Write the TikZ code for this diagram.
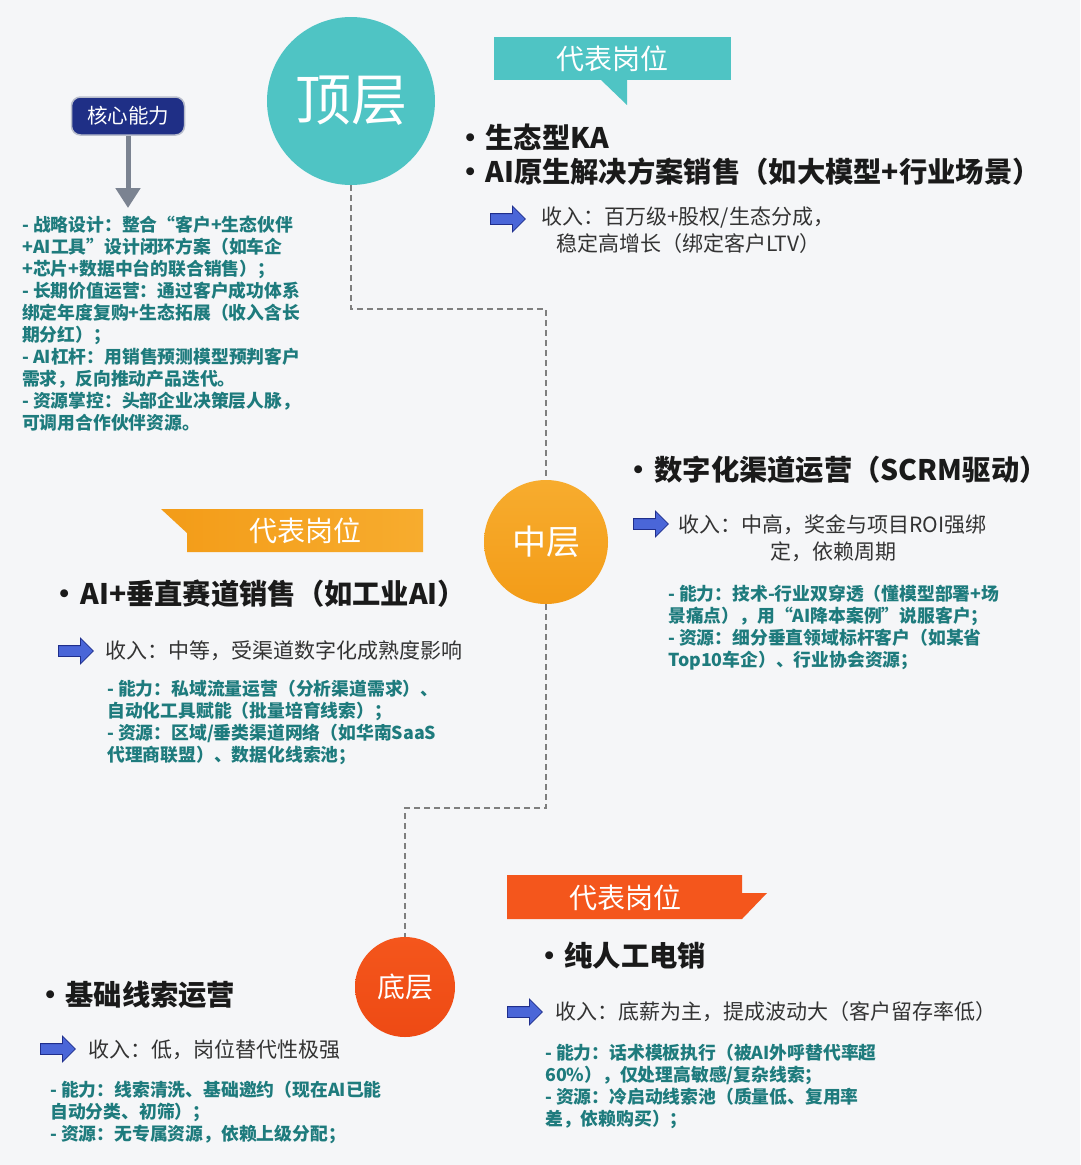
\documentclass[tikz,border=0pt]{standalone}
\usepackage{fontspec}
\setmainfont{Noto Sans CJK SC}
\usetikzlibrary{arrows.meta,shapes.arrows}
\definecolor{bgc}{HTML}{F5F6F8}
\definecolor{tealc}{HTML}{4FC4C4}
\definecolor{captext}{HTML}{1E7B7D}
\definecolor{headc}{HTML}{1A1A1A}
\definecolor{incc}{HTML}{333333}
\definecolor{navy}{HTML}{1F2F86}
\definecolor{navyedge}{HTML}{B8BDCC}
\definecolor{grayarrow}{HTML}{7B8391}
\definecolor{dashc}{HTML}{7F7F7F}
\definecolor{arrowfill}{HTML}{4A66D8}
\definecolor{arrowedge}{HTML}{1F2E8C}
\definecolor{orangeA}{HTML}{F39C18}
\definecolor{orangeB}{HTML}{F7AC2E}
\definecolor{redA}{HTML}{F4561C}
\definecolor{redB}{HTML}{EE4A14}
\begin{document}
\begin{tikzpicture}[x=1pt,y=-1pt,
  abilitytxt/.style={anchor=north west, inner sep=0pt, align=left, text=captext,
    font=\bfseries\fontsize{17.8}{22}\selectfont},
  headline/.style={anchor=west, inner sep=0pt, text=headc,
    font=\bfseries\fontsize{28.3}{32}\selectfont},
  inc/.style={anchor=west, inner sep=0pt, text=incc,
    font=\fontsize{21}{26}\selectfont},
  barrow/.style={single arrow, draw=arrowedge, fill=arrowfill, line width=0.8pt,
    minimum height=35pt, minimum width=25pt, single arrow head extend=7.5pt,
    inner xsep=0pt, inner ysep=5pt, anchor=west},
  calltext/.style={inner sep=0pt, text=white, font=\fontsize{28}{32}\selectfont},
  tier/.style={circle, inner sep=0pt, text=white},
  dashline/.style={draw=dashc, line width=1.5pt, dash pattern=on 6pt off 4pt},
  corebox/.style={rounded corners=9pt, fill=navy, draw=navyedge, line width=1.5pt,
    minimum width=113pt, minimum height=38pt, text=white,
    font=\fontsize{20.5}{24}\selectfont},
  grayarr/.style={draw=grayarrow, line width=5pt, -{Triangle[width=24pt,length=20pt]}}
]
\fill[bgc] (0,0) rectangle (1080,1165);
\useasboundingbox (0,0) rectangle (1080,1165);

% ---------- tier circles ----------
\node[tier, fill=tealc, minimum size=168pt, font=\fontsize{56}{60}\selectfont] (top) at (351,101) {顶层};
\node[tier, minimum size=124pt, top color=orangeB, bottom color=orangeA, font=\fontsize{34}{38}\selectfont] (mid) at (546,542) {中层};
\node[tier, minimum size=100pt, top color=redA, bottom color=redB, font=\fontsize{28}{32}\selectfont] (bot) at (405,987) {底层};

% ---------- dashed connectors ----------
\draw[dashline] (top.south) -- ++(0,124) -| (mid.north);
\draw[dashline] (mid.south) -- (mid.south |- 0,808) -| (bot.north);

% ---------- core ability ----------
\node[corebox] (core) at (128,116) {核心能力};
\coordinate (coretip) at (128,208);
\draw[grayarr] (core.south) -- (coretip);
\node[abilitytxt] (coretext) at (22,216) {- 战略设计：整合“客户+生态伙伴\\
+AI工具”设计闭环方案（如车企\\
+芯片+数据中台的联合销售）；\\
- 长期价值运营：通过客户成功体系\\
绑定年度复购+生态拓展（收入含长\\
期分红）；\\
- AI杠杆：用销售预测模型预判客户\\
需求，反向推动产品迭代。\\
- 资源掌控：头部企业决策层人脉，\\
可调用合作伙伴资源。};

% ---------- top callout ----------
\fill[tealc] (494,37) rectangle (731,80);
\fill[tealc] (600,79) -- (627,79) -- (627,105) -- cycle;
\node[calltext] (call1) at (612,59) {代表岗位};

\node[headline] (h1a) at (456,137) {•\hspace{1pt}生态型KA};
\node[headline] (h1b) at (456,172) {•\hspace{1pt}AI原生解决方案销售（如大模型+行业场景）};
\node[barrow] (a1) at (490,219) {};
\node[inc] (i1a) at (541,218) {收入：百万级+股权/生态分成，};
\node[inc] (i1b) at (556,244) {稳定高增长（绑定客户LTV）};

% ---------- middle right ----------
\node[headline] (h2) at (624,470) {•\hspace{2pt}数字化渠道运营（SCRM驱动）};
\node[barrow] (a2) at (633,524) {};
\node[inc] (i2a) at (678,525) {收入：中高，奖金与项目ROI强绑};
\node[inc] (i2b) at (770,552) {定，依赖周期};
\node[abilitytxt] (c2) at (668,585) {- 能力：技术-行业双穿透（懂模型部署+场\\
景痛点），用“AI降本案例”说服客户；\\
- 资源：细分垂直领域标杆客户（如某省\\
Top10车企）、行业协会资源；};

% ---------- middle callout ----------
\shade[left color=orangeA, right color=orangeB] (161,509) -- (423,509) -- (423,552) -- (187,552) -- (187,533) -- cycle;
\node[calltext] (call2) at (305,531) {代表岗位};

% ---------- middle left ----------
\node[headline] (h3) at (50,594) {•\hspace{2pt}AI+垂直赛道销售（如工业AI）};
\node[barrow] (a3) at (58,651) {};
\node[inc] (i3) at (105,651) {收入：中等，受渠道数字化成熟度影响};
\node[abilitytxt] (c3) at (107,680) {- 能力：私域流量运营（分析渠道需求）、\\
自动化工具赋能（批量培育线索）；\\
- 资源：区域/垂类渠道网络（如华南SaaS\\
代理商联盟）、数据化线索池；};

% ---------- bottom callout ----------
\fill[redA] (507,875) -- (742,875) -- (742,893) -- (767,893) -- (742,919) -- (507,919) -- cycle;
\node[calltext] (call3) at (625,898) {代表岗位};

% ---------- bottom right ----------
\node[headline] (h5) at (535,956) {•\hspace{1pt}纯人工电销};
\node[barrow] (a5) at (507,1012) {};
\node[inc] (i5) at (555,1012) {收入：底薪为主，提成波动大（客户留存率低）};
\node[abilitytxt] (c5) at (545,1044) {- 能力：话术模板执行（被AI外呼替代率超\\
60\%），仅处理高敏感/复杂线索；\\
- 资源：冷启动线索池（质量低、复用率\\
差，依赖购买）；};

% ---------- bottom left ----------
\node[headline] (h4) at (36,995) {•\hspace{1pt}基础线索运营};
\node[barrow] (a4) at (40,1049) {};
\node[inc] (i4) at (88,1050) {收入：低，岗位替代性极强};
\node[abilitytxt] (c4) at (50,1081) {- 能力：线索清洗、基础邀约（现在AI已能\\
自动分类、初筛）；\\
- 资源：无专属资源，依赖上级分配；};
\end{tikzpicture}
\end{document}
